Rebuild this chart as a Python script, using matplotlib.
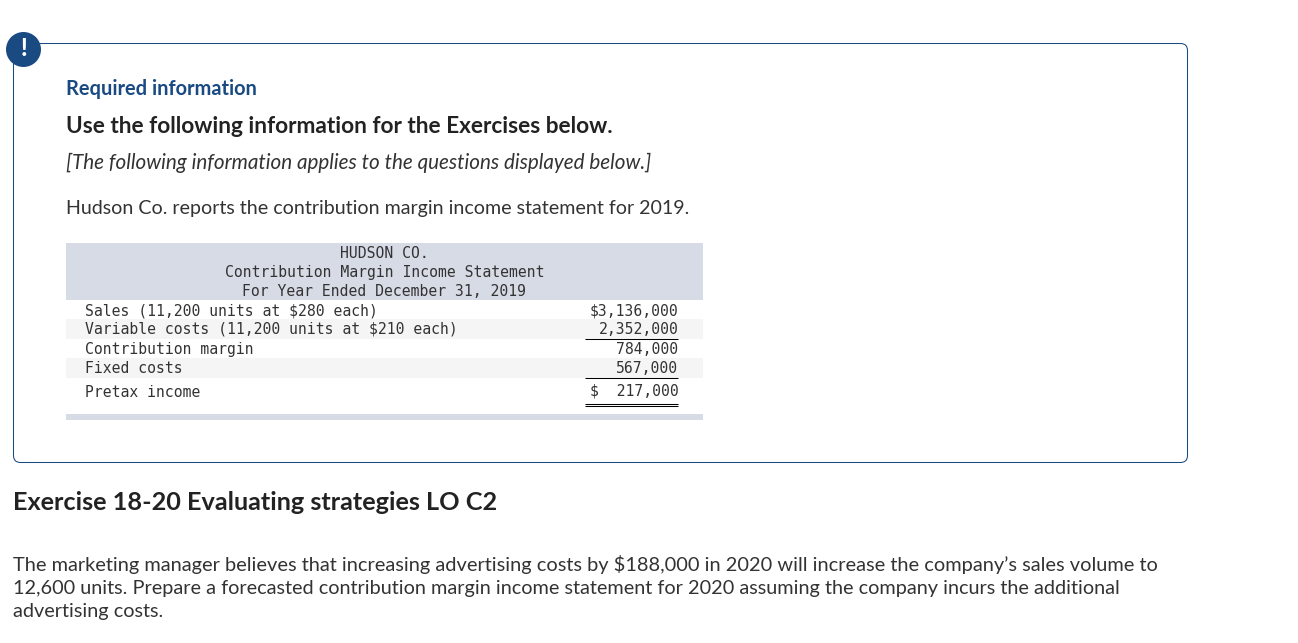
import matplotlib

matplotlib.use("Agg")
import matplotlib.pyplot as plt
from matplotlib.patches import Circle, FancyBboxPatch, Rectangle

NAVY = "#1a4a82"
DARK = "#222222"
BODY = "#333333"
HEADER_BG = "#d7dbe6"
STRIPE_BG = "#f5f5f5"

header_lines = ["HUDSON CO.", "Contribution Margin Income Statement", "For Year Ended December 31, 2019"]
row_labels = [
    "Sales (11,200 units at $280 each)",
    "Variable costs (11,200 units at $210 each)",
    "Contribution margin",
    "Fixed costs",
    "Pretax income",
]
row_amounts = ["$3,136,000", "2,352,000", "784,000", "567,000", "$  217,000"]
question_lines = [
    "The marketing manager believes that increasing advertising costs by $188,000 in 2020 will increase the company\u2019s sales volume to",
    "12,600 units. Prepare a forecasted contribution margin income statement for 2020 assuming the company incurs the additional",
    "advertising costs.",
]

fig = plt.figure(figsize=(12.98, 6.43), dpi=100)
ax = fig.add_axes([0, 0, 1, 1])
ax.set_xlim(0, 1298)
ax.set_ylim(643, 0)
ax.axis("off")

# info box and badge
ax.add_patch(FancyBboxPatch((13.5, 43.5), 1174, 419, boxstyle="round,pad=0,rounding_size=7",
                            fc="white", ec=NAVY, lw=0.75))
ax.add_patch(Circle((23.5, 49.5), 17.5, fc=NAVY, ec="none", zorder=3))
ax.text(23.5, 48.5, "!", color="white", fontsize=17, fontweight="black", family="Lato",
        ha="center", va="center", zorder=4)


def put(x, y, s, size, color=BODY, weight="normal", style="normal", family="Lato", ha="left"):
    ax.text(x, y, s, fontsize=size, color=color, fontweight=weight, fontstyle=style,
            family=family, ha=ha, va="baseline")


put(66.5, 95, "Required information", 14.4, NAVY, "bold")
put(66.5, 133, "Use the following information for the Exercises below.", 16.25, DARK, "bold")
put(66.5, 169, "[The following information applies to the questions displayed below.]", 14.9, BODY, style="italic")
put(66.5, 214, "Hudson Co. reports the contribution margin income statement for 2019.", 14.1, BODY)

# statement table
ax.add_patch(Rectangle((66, 243), 637, 57, fc=HEADER_BG, ec="none"))
ax.add_patch(Rectangle((66, 319), 637, 20, fc=STRIPE_BG, ec="none"))
ax.add_patch(Rectangle((66, 358), 637, 20, fc=STRIPE_BG, ec="none"))
ax.add_patch(Rectangle((66, 414), 637, 6, fc=HEADER_BG, ec="none"))

MONO = "DejaVu Sans Mono"
MONO_SIZE = 10.65
header_y = [258, 277, 296]
for y, line in zip(header_y, header_lines):
    put(384.5, y, line, MONO_SIZE, BODY, family=MONO, ha="center")

row_y = [315, 334, 354, 373, 397]
amount_y = [315, 334, 354, 373, 396]
for y, y2, label, amount in zip(row_y, amount_y, row_labels, row_amounts):
    put(85, y, label, MONO_SIZE, BODY, family=MONO)
    put(678.5, y2, amount, MONO_SIZE, BODY, family=MONO, ha="right")

for y in [338.5, 377.5, 403.5, 405.5]:
    ax.plot([585, 678], [y, y], color="black", lw=0.75, solid_capstyle="butt")

put(13, 510, "Exercise 18-20 Evaluating strategies LO C2", 18.2, DARK, "bold")
question_sizes = [14.44, 14.28, 14.28]
for y, size, line in zip([571, 594, 617], question_sizes, question_lines):
    put(13, y, line, size, BODY)

fig.savefig("out.png", dpi=100)
